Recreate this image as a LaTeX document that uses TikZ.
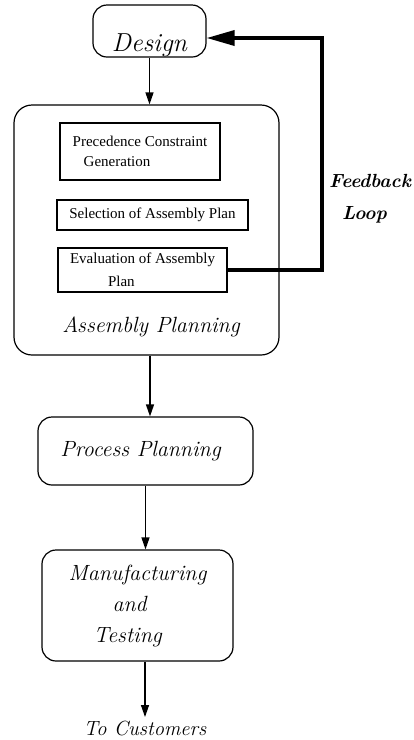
\documentclass[tikz,border=0pt]{standalone}
\usepackage{fontspec}
\newfontfamily\boxfont{Liberation Serif}
\usepackage{tikz}
\usetikzlibrary{arrows.meta, positioning}

\begin{document}
\begin{tikzpicture}[
		x=1pt, y=-1pt,
		roundnode/.style={rectangle, rounded corners=14pt, draw, line width=1.2pt, font=\fontsize{22}{31}\selectfont\itshape},
		squarednode/.style={rectangle, draw, line width=1.1pt, inner sep=0pt, font=\boxfont\fontsize{15}{20}\selectfont},
		flow/.style={-{Triangle[length=12pt, width=8pt]}, line width=1.3pt},
		feedback/.style={-{Triangle[length=28pt, width=15pt]}, line width=3.5pt},
	]
		\useasboundingbox (0,0) rectangle (414,740);

		%Nodes
		\node (design) [roundnode, minimum width=113pt, minimum height=52pt, inner ysep=0pt, text height=46pt,
			font=\fontsize{26}{30}\selectfont\itshape] at (149.5,31) {Design};

		\node (asm) [roundnode, rounded corners=18pt, minimum width=265pt, minimum height=250pt] at (146.5,230) {};
		\node (prec) [squarednode, minimum width=160pt, minimum height=57pt, align=left] at (140,151.5)
			{Precedence Constraint\\\hspace*{11pt}Generation};
		\node (sel) [squarednode, minimum width=191pt, minimum height=30pt] at (152.5,215) {Selection of Assembly Plan};
		\node (eval) [squarednode, minimum width=169pt, minimum height=44pt, align=left,
			font=\boxfont\fontsize{15}{23}\selectfont] at (142.5,270)
			{Evaluation of Assembly\\\hspace*{38pt}Plan};
		\node (asmlabel) [font=\fontsize{22}{26}\selectfont\itshape] at (151,327) {Assembly Planning};

		\node (process) [roundnode, minimum width=215pt, minimum height=68pt] at (145.5,451) {\hspace*{-10pt}Process Planning};
		\node (manuf) [roundnode, minimum width=191pt, minimum height=111pt, align=left] at (137.5,605.5)
			{Manufacturing\\\hspace*{44pt}and\\\hspace*{25pt}Testing};
		\node (customers) [font=\fontsize{20.5}{24}\selectfont\itshape] at (145,728) {To Customers};

		\node (fblabel) [font=\fontsize{19}{32}\selectfont\bfseries\itshape, align=left] at (370,199)
			{Feedback\\\hspace*{13pt}Loop};

		\coordinate (fbturn) at (322,38);

		%Lines
		\draw[flow] (design.south) -- (design.south |- asm.north);
		\draw[flow] ([xshift=3.5pt]asm.south) -- ([xshift=3.5pt]asm.south |- process.north);
		\draw[flow] (process.south) -- (process.south |- manuf.north);
		\draw[flow] (manuf.south -| customers.north) -- (customers.north);

		\draw[feedback] (eval.east) -| (fbturn) -- (design.east |- fbturn);
	\end{tikzpicture}
\end{document}
